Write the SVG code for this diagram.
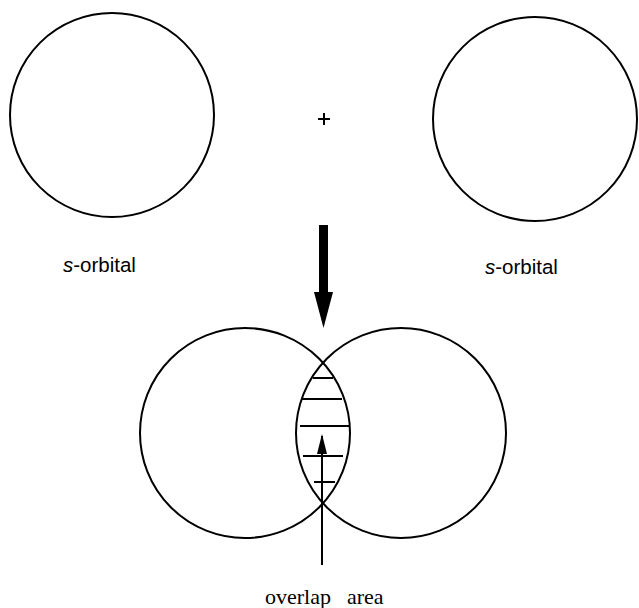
<svg xmlns="http://www.w3.org/2000/svg" width="639" height="608" viewBox="0 0 639 608">
<style>
.orb{fill:none;stroke:#000;stroke-width:2}
.ln{stroke:#000;stroke-width:2;fill:none}
.lbl{font-family:"Liberation Sans",Arial,sans-serif;font-size:20.5px;fill:#000}
.ser{font-family:"Liberation Serif","Times New Roman",serif;font-size:22px;fill:#000}
</style>
<defs>
<marker id="ah" markerWidth="20" markerHeight="10" refX="18" refY="5" orient="auto" markerUnits="userSpaceOnUse" viewBox="0 0 20 10"><path d="M0,0 L20,5 L0,10 Z" fill="#000"/></marker>
</defs>
<rect width="639" height="608" fill="#fff"/>
<g id="s-orbital-left">
<circle class="orb" cx="112" cy="115" r="102"/>
<text class="lbl" x="63" y="272"><tspan font-style="italic">s</tspan>-orbital</text>
</g>
<g id="plus">
<path class="ln" d="M318,119 H330 M324,113 V125"/>
</g>
<g id="s-orbital-right">
<circle class="orb" cx="535" cy="119" r="102"/>
<text class="lbl" x="485" y="274"><tspan font-style="italic">s</tspan>-orbital</text>
</g>
<g id="overlap">
<circle class="orb" cx="245" cy="433" r="105"/>
<circle class="orb" cx="401" cy="433" r="105"/>
<path class="ln" d="M313,378 H333 M302,399 H342 M300,426 H349 M303,456 H343 M314,482 H335"/>
</g>
<g id="connectors">
<rect x="319" y="225" width="9" height="70" fill="#000"/>
<path d="M314,292 L333,292 L323.5,328 Z" fill="#000"/>
<line class="ln" x1="322" y1="565" x2="322" y2="436" marker-end="url(#ah)"/>
</g>
<g id="label-overlap">
<text class="ser" x="265" y="604">overlap</text>
<text class="ser" x="347" y="604">area</text>
</g>
</svg>
